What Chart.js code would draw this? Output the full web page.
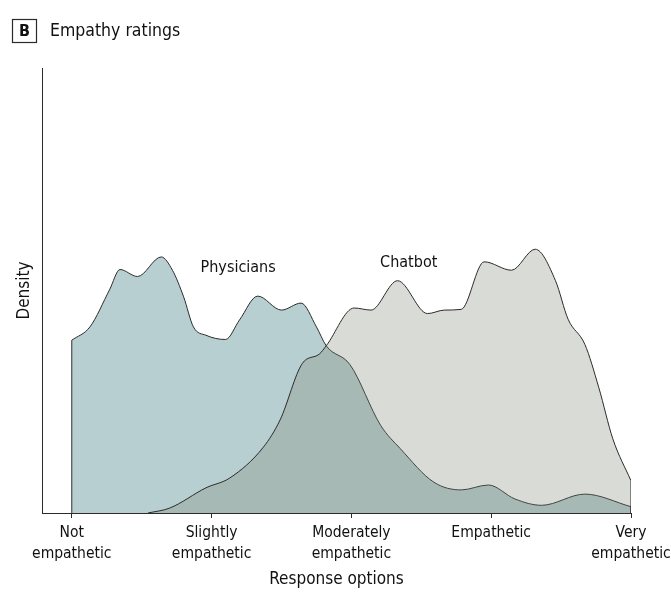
<!DOCTYPE html>
<html>
<head>
<meta charset="utf-8">
<script src="https://cdn.jsdelivr.net/npm/chart.js@4.4.1/dist/chart.umd.min.js"></script>
<style>
  html, body { margin: 0; padding: 0; background: #fff; }
  #wrap { width: 671px; height: 601px; position: relative; }
</style>
</head>
<body>
<div id="wrap"><canvas id="chart"></canvas></div>
<script>
// ====== DATA ======
const tickValues = [1, 2, 3, 4, 5];
const tickLabels = [
  ["Not", "empathetic"],
  ["Slightly", "empathetic"],
  ["Moderately", "empathetic"],
  ["Empathetic"],
  ["Very", "empathetic"]
];

// physicians density (x = response score, y = density)
const physX = [1.00, 1.13, 1.27, 1.345, 1.47, 1.64, 1.72, 1.80, 1.87, 1.96, 2.10, 2.20, 2.33, 2.50, 2.64, 2.75, 2.82, 2.99, 3.21, 3.35, 3.59, 3.785, 3.98, 4.17, 4.36, 4.67, 5.00];
const physY = [0.247, 0.266, 0.319, 0.348, 0.338, 0.366, 0.347, 0.309, 0.266, 0.254, 0.248, 0.276, 0.310, 0.290, 0.300, 0.266, 0.239, 0.212, 0.125, 0.092, 0.044, 0.033, 0.040, 0.020, 0.011, 0.027, 0.009];

// chatbot density
const chatX = [1.545, 1.70, 1.96, 2.13, 2.37, 2.49, 2.65, 2.77, 2.82, 3.02, 3.14, 3.33, 3.545, 3.665, 3.785, 3.95, 4.145, 4.315, 4.46, 4.55, 4.67, 4.77, 4.87, 5.00];
const chatY = [0.000, 0.007, 0.036, 0.050, 0.094, 0.133, 0.214, 0.227, 0.239, 0.293, 0.290, 0.332, 0.285, 0.290, 0.291, 0.359, 0.347, 0.377, 0.332, 0.277, 0.241, 0.179, 0.106, 0.046];

const seriesLabels = ["Physicians", "Chatbot"];
const labelPos = [[2.19, 0.350], [3.41, 0.357]];

// ====== STYLE ======
const FONT = '"DejaVu Sans Condensed", "Liberation Sans Narrow", sans-serif';
const INK = "#2b2b2b";
const PHYS_FILL = "#b8cfd1";
const CHAT_FILL = "rgba(124,131,114,0.29)";

const pts = (xs, ys) => xs.map((x, i) => ({ x, y: ys[i] }));
const edge = (x, y) => [{ x, y: 0 }, { x, y }];

const edgeStyle = {
  type: "line", fill: false, borderColor: INK, borderWidth: 1,
  pointRadius: 0, tension: 0, order: 0
};

// ====== PLUGINS ======
const extras = {
  id: "extras",
  afterDraw(chart) {
    const c = chart.ctx;
    const xs = chart.scales.x, ys = chart.scales.y;
    c.save();
    // panel letter + title
    c.strokeStyle = INK;
    c.lineWidth = 1.2;
    c.strokeRect(12.5, 19.5, 24, 23);
    c.fillStyle = "#111";
    c.font = "bold 16px " + FONT;
    c.textAlign = "center";
    c.textBaseline = "middle";
    c.fillText("B", 24.5, 31.5);
    c.font = "17.5px " + FONT;
    c.textAlign = "left";
    c.fillText("Empathy ratings", 50, 31);
    // series labels
    c.font = "16px " + FONT;
    c.textAlign = "center";
    seriesLabels.forEach((t, i) => {
      c.fillText(t, xs.getPixelForValue(labelPos[i][0]), ys.getPixelForValue(labelPos[i][1]));
    });
    c.restore();
  }
};

// ====== CHART ======
new Chart(document.getElementById("chart"), {
  type: "line",
  data: {
    datasets: [
      {
        label: "Chatbot", data: pts(chatX, chatY),
        fill: "origin", backgroundColor: CHAT_FILL,
        borderColor: INK, borderWidth: 1, pointRadius: 0,
        cubicInterpolationMode: "monotone", order: 1
      },
      {
        label: "Physicians", data: pts(physX, physY),
        fill: "origin", backgroundColor: PHYS_FILL,
        borderColor: INK, borderWidth: 1, pointRadius: 0,
        cubicInterpolationMode: "monotone", order: 2
      },
      { ...edgeStyle, data: edge(physX[0], physY[0]) },
      { ...edgeStyle, data: edge(physX[physX.length - 1], physY[physY.length - 1]) },
      { ...edgeStyle, data: edge(chatX[chatX.length - 1], chatY[chatY.length - 1]) }
    ]
  },
  options: {
    responsive: true,
    maintainAspectRatio: false,
    animation: false,
    layout: { padding: { top: 68, right: 40, left: 0, bottom: 0 } },
    plugins: { legend: { display: false }, tooltip: { enabled: false } },
    scales: {
      x: {
        type: "linear",
        min: 0.787, max: 5,
        afterBuildTicks: (s) => { s.ticks = tickValues.map(v => ({ value: v })); },
        afterFit: (s) => { s.height = 88; s.paddingLeft = 0; s.paddingRight = 0; },
        grid: { drawOnChartArea: false, tickLength: 5, color: INK, lineWidth: 1 },
        border: { color: INK, width: 1 },
        ticks: {
          autoSkip: false, maxRotation: 0, padding: 5,
          color: "#111",
          font: { family: FONT, size: 15.5, lineHeight: 1.32 },
          callback: (v) => tickLabels[tickValues.indexOf(v)] || ""
        },
        title: {
          display: true, text: "Response options", color: "#111",
          font: { family: FONT, size: 17 }, padding: { top: 0, bottom: 11 }
        }
      },
      y: {
        min: 0, max: 0.636,
        afterFit: (s) => { s.width = 42; },
        grid: { display: false },
        border: { color: INK, width: 1 },
        ticks: { display: false },
        title: {
          display: true, text: "Density", color: "#111",
          font: { family: FONT, size: 17 }, padding: { top: 14, bottom: 0 }
        }
      }
    }
  },
  plugins: [extras]
});
</script>
</body>
</html>
